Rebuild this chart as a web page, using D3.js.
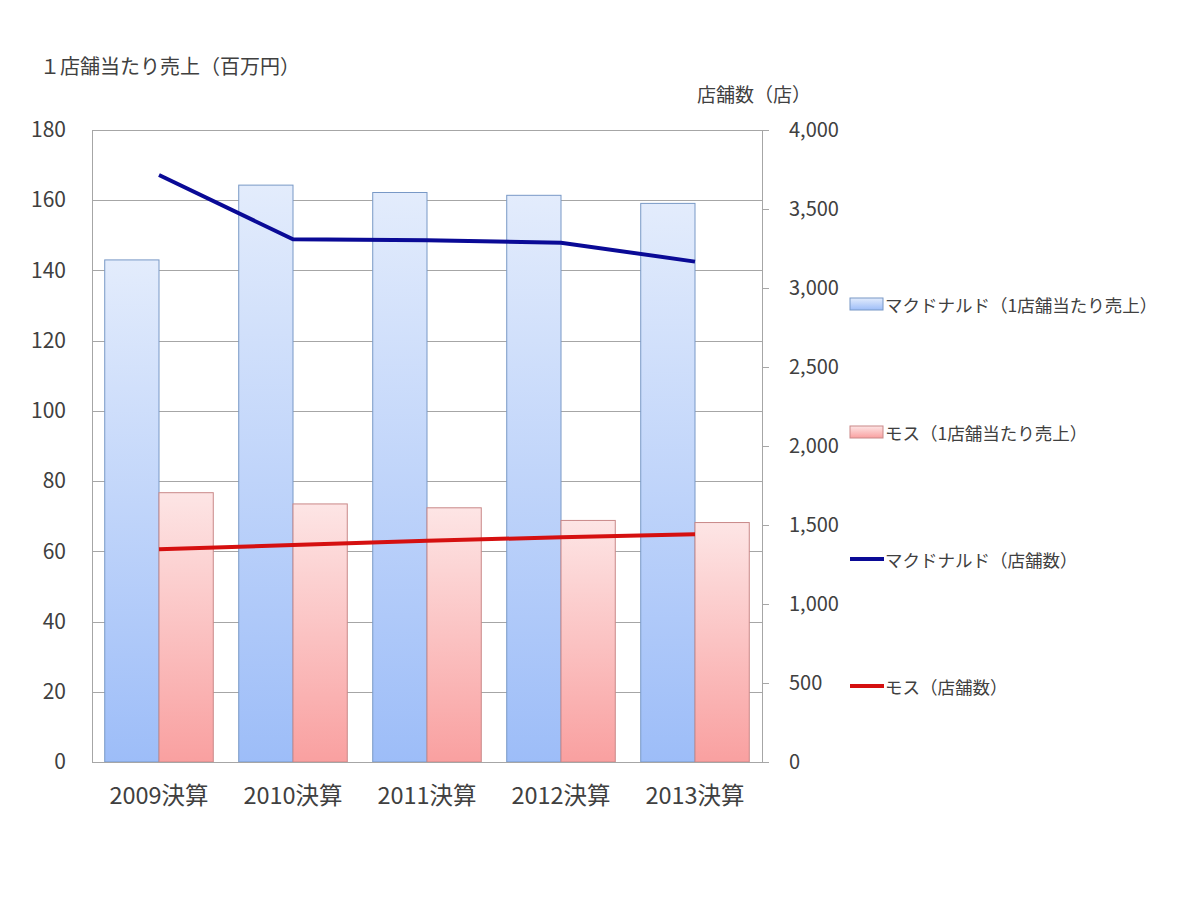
<!DOCTYPE html>
<html lang="ja">
<head>
<meta charset="utf-8">
<script src="https://cdn.jsdelivr.net/npm/d3@7"></script>
<style>
  html, body { margin: 0; padding: 0; background: #fff; }
  svg { display: block; font-family: 'Noto Sans CJK JP', 'Noto Sans', sans-serif; }
</style>
</head>
<body>
<div class="viz"></div>
<script>
// fiscal years on the horizontal axis
const years = ['2009決算', '2010決算', '2011決算', '2012決算', '2013決算'];
// sales per store (million yen), left axis
const mcdSales = [143.0, 164.3, 162.2, 161.4, 159.1];
const mosSales = [76.7, 73.5, 72.4, 68.8, 68.2];
// number of stores, right axis
const mcdStores = [3715, 3308, 3302, 3287, 3167];
const mosStores = [1346, 1373, 1401, 1422, 1441];
// tick values for both axes
const leftTicks = [0, 20, 40, 60, 80, 100, 120, 140, 160, 180];
const rightTicks = [0, 500, 1000, 1500, 2000, 2500, 3000, 3500, 4000];

const margin = { top: 130, right: 438, bottom: 138, left: 92 };
const width = 1200 - (margin.left + margin.right);
const height = 900 - (margin.top + margin.bottom);
const textColor = '#404040';

const svg = d3.select('.viz')
  .append('svg')
  .attr('width', 1200)
  .attr('height', 900);

// gradients for the two bar series, light on top and stronger at the base
const defs = svg.append('defs');
const gradients = [
  { id: 'grad-mcd', top: '#e3ecfc', bottom: '#9dbdf8' },
  { id: 'grad-mos', top: '#fde5e5', bottom: '#f9a0a0' },
];
const grad = defs.selectAll('linearGradient')
  .data(gradients)
  .enter()
  .append('linearGradient')
  .attr('id', d => d.id)
  .attr('x1', 0).attr('x2', 0)
  .attr('y1', 0).attr('y2', 1);
grad.append('stop').attr('offset', 0).attr('stop-color', d => d.top);
grad.append('stop').attr('offset', 1).attr('stop-color', d => d.bottom);

const g = svg.append('g')
  .attr('transform', `translate(${margin.left} ${margin.top})`);

const xScale = d3.scaleBand()
  .domain(years)
  .range([0, width])
  .paddingInner(0.19)
  .paddingOuter(0.095);

const xSub = d3.scaleBand()
  .domain(['mcd', 'mos'])
  .range([0, xScale.bandwidth()]);

const yLeft = d3.scaleLinear().domain([0, 180]).range([height, 0]);
const yRight = d3.scaleLinear().domain([0, 4000]).range([height, 0]);

// horizontal grid lines
g.append('g')
  .attr('class', 'grid')
  .selectAll('line')
  .data(leftTicks)
  .enter()
  .append('line')
  .attr('x1', 0)
  .attr('x2', width)
  .attr('y1', d => Math.round(yLeft(d)) + 0.5)
  .attr('y2', d => Math.round(yLeft(d)) + 0.5)
  .attr('stroke', '#a6a6a6')
  .attr('stroke-width', 1);

// left border of the plot area
g.append('line')
  .attr('x1', 0.5).attr('x2', 0.5)
  .attr('y1', 0).attr('y2', height)
  .attr('stroke', '#a6a6a6');

// left axis labels
const axisLeft = d3.axisLeft(yLeft)
  .tickValues(leftTicks)
  .tickSize(0)
  .tickPadding(26);
const gLeft = g.append('g').attr('class', 'axis y-left').call(axisLeft);
gLeft.select('.domain').remove();
gLeft.selectAll('text')
  .attr('font-size', 21)
  .attr('fill', textColor)
  .style('font-family', "'Noto Sans CJK JP', sans-serif");

// bars
const bars = g.append('g').attr('class', 'bars');
const barSeries = [
  { key: 'mcd', values: mcdSales, fill: 'url(#grad-mcd)', stroke: '#7898c6' },
  { key: 'mos', values: mosSales, fill: 'url(#grad-mos)', stroke: '#c98888' },
];
barSeries.forEach(series => {
  bars.append('g')
    .selectAll('rect')
    .data(series.values)
    .enter()
    .append('rect')
    .attr('x', (d, i) => xScale(years[i]) + xSub(series.key))
    .attr('y', d => yLeft(d))
    .attr('width', xSub.bandwidth())
    .attr('height', d => height - yLeft(d))
    .attr('fill', series.fill)
    .attr('stroke', series.stroke)
    .attr('stroke-width', 1);
});

// right axis
const axisRight = d3.axisRight(yRight)
  .tickValues(rightTicks)
  .tickSize(7)
  .tickPadding(20)
  .tickFormat(d3.format(','));
const gRight = g.append('g')
  .attr('class', 'axis y-right')
  .attr('transform', `translate(${width} 0)`)
  .call(axisRight);
gRight.selectAll('.domain, line').attr('stroke', '#a6a6a6');
gRight.selectAll('text')
  .attr('font-size', 20)
  .attr('fill', textColor)
  .style('font-family', "'Noto Sans CJK JP', sans-serif");

// bottom baseline and labels
g.append('line')
  .attr('x1', 0).attr('x2', width)
  .attr('y1', height + 0.5).attr('y2', height + 0.5)
  .attr('stroke', '#a6a6a6');

const axisBottom = d3.axisBottom(xScale).tickSize(0);
const gBottom = g.append('g')
  .attr('class', 'axis x-axis')
  .attr('transform', `translate(0 ${height})`)
  .call(axisBottom);
gBottom.select('.domain').remove();
gBottom.selectAll('text')
  .attr('y', 42)
  .attr('dy', 0)
  .attr('font-size', 23.5)
  .attr('fill', textColor)
  .style('font-family', "'Noto Sans CJK JP', sans-serif");

// store count lines on the right scale
const line = d3.line()
  .x((d, i) => xScale(years[i]) + xScale.bandwidth() / 2)
  .y(d => yRight(d));

const lineSeries = [
  { values: mcdStores, color: '#0a0a96' },
  { values: mosStores, color: '#d51010' },
];
lineSeries.forEach(series => {
  g.append('path')
    .attr('d', line(series.values))
    .attr('fill', 'none')
    .attr('stroke', series.color)
    .attr('stroke-width', 4);
});

// axis titles
svg.append('text')
  .attr('x', 40)
  .attr('y', 74)
  .attr('font-size', 20)
  .attr('fill', textColor)
  .text('１店舗当たり売上（百万円）');

svg.append('text')
  .attr('x', 697)
  .attr('y', 102)
  .attr('font-size', 19)
  .attr('fill', textColor)
  .text('店舗数（店）');

// legend
const legendItems = [
  { label: 'マクドナルド（1店舗当たり売上）', type: 'bar', fill: 'url(#grad-mcd)', stroke: '#7898c6', y: 304 },
  { label: 'モス（1店舗当たり売上）', type: 'bar', fill: 'url(#grad-mos)', stroke: '#c98888', y: 432 },
  { label: 'マクドナルド（店舗数）', type: 'line', color: '#0a0a96', y: 559 },
  { label: 'モス（店舗数）', type: 'line', color: '#d51010', y: 686 },
];
const legend = svg.append('g').attr('class', 'legend');
const item = legend.selectAll('g')
  .data(legendItems)
  .enter()
  .append('g')
  .attr('transform', d => `translate(850 ${d.y})`);

item.filter(d => d.type === 'bar')
  .append('rect')
  .attr('x', 0)
  .attr('y', -6)
  .attr('width', 33)
  .attr('height', 12)
  .attr('fill', d => d.fill)
  .attr('stroke', d => d.stroke);

item.filter(d => d.type === 'line')
  .append('line')
  .attr('x1', 0)
  .attr('x2', 34)
  .attr('stroke', d => d.color)
  .attr('stroke-width', 4);

item.append('text')
  .attr('x', 35)
  .attr('y', 0)
  .attr('dominant-baseline', 'central')
  .attr('font-size', 17.5)
  .attr('fill', textColor)
  .text(d => d.label);
</script>
</body>
</html>
